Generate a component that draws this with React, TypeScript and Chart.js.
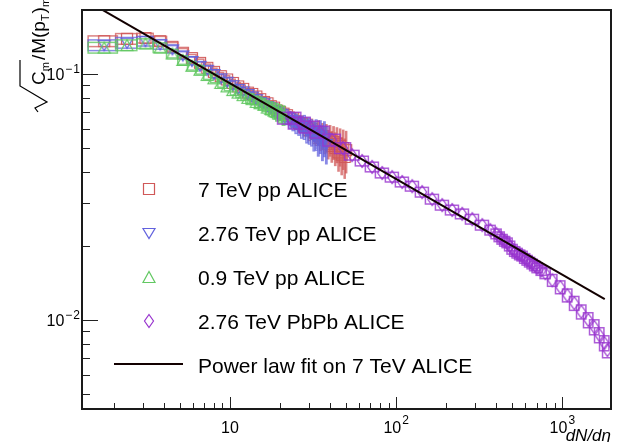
import { useEffect, useRef } from 'react';
import { Chart, registerables } from 'chart.js';

Chart.register(...registerables);

// ---------------- data ----------------
// pp multiplicity bins (dN/deta)
const ppMult = [1.75, 2.4, 3.1, 3.8, 4.5, 5.2, 5.9, 6.6, 7.3, 8.0, 8.8, 9.6, 10.4, 11.2, 12.0, 12.8, 13.6, 14.4, 15.2, 16.0, 16.8, 17.6, 18.4, 19.2, 20, 21, 22, 23, 24, 25, 26, 27, 28, 29, 30, 31, 32, 33, 34, 35, 36, 37, 38, 39, 40, 41, 42, 43, 44, 45, 46, 47, 48, 49, 50];
const ppMultHalfWidth = 0.35;

const pp7Y = [0.136, 0.139, 0.140, 0.136, 0.129, 0.122, 0.116, 0.111, 0.106, 0.102, 0.098, 0.095, 0.092, 0.089, 0.087, 0.084, 0.083, 0.081, 0.079, 0.077, 0.076, 0.074, 0.073, 0.071, 0.070, 0.069, 0.068, 0.066, 0.066, 0.064, 0.063, 0.063, 0.061, 0.061, 0.059, 0.060, 0.058, 0.057, 0.058, 0.055, 0.056, 0.054, 0.055, 0.052, 0.054, 0.051, 0.053, 0.050, 0.052, 0.048, 0.051, 0.047, 0.050, 0.046, 0.049];
const pp7RelErr = [0.05, 0.05, 0.045, 0.045, 0.04, 0.04, 0.035, 0.035, 0.035, 0.035, 0.035, 0.035, 0.035, 0.035, 0.035, 0.035, 0.035, 0.04, 0.04, 0.04, 0.04, 0.045, 0.045, 0.05, 0.05, 0.05, 0.055, 0.06, 0.06, 0.065, 0.07, 0.07, 0.08, 0.08, 0.09, 0.09, 0.1, 0.1, 0.11, 0.11, 0.12, 0.12, 0.13, 0.13, 0.14, 0.14, 0.15, 0.15, 0.16, 0.16, 0.17, 0.17, 0.18, 0.18, 0.19];

const pp276Y = [0.131, 0.134, 0.136, 0.132, 0.126, 0.119, 0.113, 0.108, 0.104, 0.100, 0.096, 0.093, 0.090, 0.087, 0.085, 0.083, 0.081, 0.079, 0.077, 0.076, 0.074, 0.073, 0.071, 0.070, 0.069, 0.067, 0.067, 0.065, 0.064, 0.063, 0.062, 0.061, 0.061, 0.059, 0.059, 0.058, 0.056, 0.057, 0.054, 0.056, 0.053, 0.055, 0.052];
const pp276RelErr = [0.05, 0.05, 0.045, 0.045, 0.035, 0.035, 0.035, 0.035, 0.035, 0.035, 0.035, 0.035, 0.035, 0.035, 0.035, 0.035, 0.04, 0.04, 0.04, 0.045, 0.045, 0.05, 0.05, 0.055, 0.06, 0.065, 0.07, 0.075, 0.08, 0.09, 0.09, 0.1, 0.11, 0.11, 0.12, 0.12, 0.13, 0.14, 0.14, 0.15, 0.16, 0.16, 0.17];

const pp09Y = [0.128, 0.131, 0.133, 0.128, 0.121, 0.114, 0.108, 0.104, 0.099, 0.096, 0.092, 0.089, 0.086, 0.084, 0.082, 0.080, 0.079, 0.077, 0.076, 0.075, 0.073, 0.072, 0.071, 0.070, 0.069, 0.068];
const pp09RelErr = [0.05, 0.05, 0.045, 0.045, 0.04, 0.04, 0.04, 0.04, 0.04, 0.04, 0.04, 0.04, 0.045, 0.045, 0.045, 0.05, 0.05, 0.055, 0.06, 0.06, 0.065, 0.07, 0.075, 0.08, 0.085, 0.09];

const pbX = [23.0, 26.4, 30.3, 34.9, 41.2, 47.9, 54.3, 62.4, 71.7, 82.4, 94.6, 108.7, 124.9, 143.4, 164.8, 189.3, 217.5, 249.8, 287.0, 329.7, 368.4, 400.4, 418, 435.1, 451, 466.4, 483, 499.7, 518, 535.8, 555, 574.1, 595, 615.5, 637, 659.6, 683, 707.0, 748, 790.0, 870.9, 972.7, 1072, 1181, 1302, 1434, 1559, 1671, 1791, 1867];
const pbY = [0.0662, 0.0632, 0.0609, 0.0581, 0.0539, 0.0500, 0.0468, 0.0443, 0.0419, 0.0396, 0.0381, 0.0364, 0.0350, 0.0331, 0.0310, 0.0293, 0.0280, 0.0270, 0.0257, 0.0243, 0.0232, 0.0224, 0.0218, 0.0213, 0.0209, 0.0206, 0.0200, 0.0194, 0.0190, 0.0187, 0.0184, 0.0182, 0.0178, 0.0175, 0.0172, 0.0169, 0.0166, 0.0163, 0.0159, 0.0155, 0.0145, 0.0136, 0.0126, 0.0117, 0.0108, 0.0100, 0.00936, 0.00869, 0.00806, 0.00755];
const pbYRelErr = [0.055, 0.055, 0.055, 0.055, 0.055, 0.05, 0.045, 0.045, 0.045, 0.045, 0.045, 0.045, 0.045, 0.045, 0.045, 0.045, 0.045, 0.045, 0.045, 0.045, 0.045, 0.045, 0.045, 0.045, 0.045, 0.045, 0.045, 0.045, 0.045, 0.045, 0.045, 0.045, 0.045, 0.045, 0.045, 0.045, 0.045, 0.045, 0.045, 0.05, 0.055, 0.06, 0.06, 0.065, 0.065, 0.07, 0.07, 0.07, 0.07, 0.07];
const pbXRelErr = [0.16, 0.15, 0.14, 0.13, 0.12, 0.11, 0.10, 0.09, 0.09, 0.09, 0.09, 0.09, 0.09, 0.09, 0.09, 0.09, 0.09, 0.09, 0.09, 0.09, 0.07, 0.07, 0.07, 0.07, 0.07, 0.07, 0.07, 0.07, 0.07, 0.07, 0.07, 0.07, 0.07, 0.07, 0.07, 0.07, 0.07, 0.07, 0.07, 0.07, 0.065, 0.065, 0.065, 0.065, 0.065, 0.065, 0.065, 0.065, 0.065, 0.065];

// power-law fit on 7 TeV pp
const fitX = [1.5, 1800];
const fitY = [0.1916, 0.01216];

const seriesLabels = ['7 TeV pp ALICE', '2.76 TeV pp ALICE', '0.9 TeV pp ALICE', '2.76 TeV PbPb ALICE', 'Power law fit on 7 TeV ALICE'];

const xDecadeTicks = [10, 100, 1000];
const xDecadeExp = ['', '2', '3'];
const yDecadeTicks = [0.1, 0.01];
const yDecadeExp = ['1', '2'];
const xRange = [1.286, 1963];
const yRange = [0.004346, 0.182];

const FONT = '"Liberation Sans", Arial, Helvetica, sans-serif';
const RED = 'rgb(208,88,88)';
const BLUE = 'rgb(98,98,222)';
const GREEN = 'rgb(98,200,98)';
const PURPLE = 'rgb(152,52,206)';

type Shape = 'square' | 'tdown' | 'tup' | 'diamond';

function makeMarker(shape: Shape, color: string) {
  const c = document.createElement('canvas');
  c.width = 16;
  c.height = 16;
  const g = c.getContext('2d')!;
  g.strokeStyle = color;
  g.lineWidth = 1.2;
  g.beginPath();
  if (shape === 'square') g.rect(2.5, 2.5, 11, 11);
  else if (shape === 'tdown') {
    g.moveTo(2, 3.5); g.lineTo(14, 3.5); g.lineTo(8, 13.5); g.closePath();
  } else if (shape === 'tup') {
    g.moveTo(2, 13.5); g.lineTo(14, 13.5); g.lineTo(8, 2.5); g.closePath();
  } else {
    g.moveTo(8, 1.5); g.lineTo(12.5, 8); g.lineTo(8, 14.5); g.lineTo(3.5, 8); g.closePath();
  }
  g.stroke();
  return c;
}

type Series = {
  label: string; xs: number[]; ys: number[]; yRel: number[]; xRel: number[] | null;
  shape: Shape; color: string; boxColor: string;
};

const series: Series[] = [
  { label: seriesLabels[0], xs: ppMult.slice(0, pp7Y.length), ys: pp7Y, yRel: pp7RelErr, xRel: null, shape: 'square', color: RED, boxColor: 'rgba(208,88,88,0.75)' },
  { label: seriesLabels[1], xs: ppMult.slice(0, pp276Y.length), ys: pp276Y, yRel: pp276RelErr, xRel: null, shape: 'tdown', color: BLUE, boxColor: 'rgba(98,98,222,0.75)' },
  { label: seriesLabels[2], xs: ppMult.slice(0, pp09Y.length), ys: pp09Y, yRel: pp09RelErr, xRel: null, shape: 'tup', color: GREEN, boxColor: 'rgba(98,200,98,0.8)' },
  { label: seriesLabels[3], xs: pbX, ys: pbY, yRel: pbYRelErr, xRel: pbXRelErr, shape: 'diamond', color: PURPLE, boxColor: 'rgba(152,52,206,0.8)' },
];

function drawYTitle(ctx: CanvasRenderingContext2D) {
  ctx.save();
  ctx.translate(45, 112);
  ctx.rotate(-Math.PI / 2);
  ctx.fillStyle = '#000';
  ctx.strokeStyle = '#000';
  ctx.lineWidth = 1.2;
  ctx.textAlign = 'left';
  ctx.textBaseline = 'alphabetic';
  const big = `19px ${FONT}`;
  const small = `11px ${FONT}`;
  ctx.font = big;
  const wC = ctx.measureText('C').width;
  ctx.font = small;
  const wm = ctx.measureText('m').width;
  const radW = 26;
  ctx.beginPath();
  ctx.moveTo(0, -7);
  ctx.lineTo(4, -10);
  ctx.lineTo(10, 2);
  ctx.lineTo(radW, -25);
  ctx.lineTo(radW + wC + wm + 3, -25);
  ctx.stroke();
  let u = radW + 1;
  ctx.font = big; ctx.fillText('C', u, 0); u += wC;
  ctx.font = small; ctx.fillText('m', u, 4); u += wm + 2;
  ctx.font = big; ctx.fillText('/', u, 0); u += ctx.measureText('/').width + 1;
  ctx.fillText('M(p', u, 0); u += ctx.measureText('M(p').width;
  ctx.font = small; ctx.fillText('T', u, 4); u += ctx.measureText('T').width + 1;
  ctx.font = big; ctx.fillText(')', u, 0); u += ctx.measureText(')').width;
  ctx.font = small; ctx.fillText('m', u, 4);
  ctx.restore();
}

const rootPlugin = {
  id: 'rootStyle',
  beforeDatasetDraw(chart: any, args: any) {
    const s = series[args.index];
    if (!s) return;
    const { ctx, chartArea: a } = chart;
    const xs = chart.scales.x;
    const ys = chart.scales.y;
    ctx.save();
    ctx.beginPath();
    ctx.rect(a.left, a.top, a.right - a.left, a.bottom - a.top);
    ctx.clip();
    ctx.strokeStyle = s.boxColor;
    ctx.lineWidth = 1.5;
    for (let i = 0; i < s.xs.length; i++) {
      const x = s.xs[i];
      const y = s.ys[i];
      const xl = s.xRel ? x * (1 - s.xRel[i]) : x - ppMultHalfWidth;
      const xh = s.xRel ? x * (1 + s.xRel[i]) : x + ppMultHalfWidth;
      const yl = y * (1 - s.yRel[i]);
      const yh = y * (1 + s.yRel[i]);
      const px0 = xs.getPixelForValue(xl);
      const px1 = xs.getPixelForValue(xh);
      const py0 = ys.getPixelForValue(yh);
      const py1 = ys.getPixelForValue(yl);
      ctx.strokeRect(px0, py0, px1 - px0, py1 - py0);
    }
    ctx.restore();
  },
  afterDraw(chart: any) {
    const { ctx, chartArea: a } = chart;
    const xs = chart.scales.x;
    const ys = chart.scales.y;
    ctx.save();
    // ticks (inside, ROOT style)
    ctx.strokeStyle = '#222';
    ctx.lineWidth = 1;
    ctx.beginPath();
    for (const d of [1, 10, 100, 1000]) {
      for (let k = 1; k <= 9; k++) {
        const v = d * k;
        if (v < xRange[0] || v > xRange[1]) continue;
        const px = Math.round(xs.getPixelForValue(v)) + 0.5;
        const len = k === 1 ? 12 : 6;
        ctx.moveTo(px, a.bottom);
        ctx.lineTo(px, a.bottom - len);
      }
    }
    for (const d of [0.001, 0.01, 0.1]) {
      for (let k = 1; k <= 9; k++) {
        const v = d * k;
        if (v < yRange[0] || v > yRange[1]) continue;
        const py = Math.round(ys.getPixelForValue(v)) + 0.5;
        const len = k === 1 ? 16 : 8;
        ctx.moveTo(a.left, py);
        ctx.lineTo(a.left + len, py);
      }
    }
    ctx.stroke();
    // frame
    ctx.strokeStyle = '#1a1a1a';
    ctx.lineWidth = 2;
    ctx.strokeRect(a.left, a.top, a.right - a.left, a.bottom - a.top);

    // x tick labels
    ctx.fillStyle = '#000';
    ctx.textBaseline = 'alphabetic';
    ctx.textAlign = 'left';
    xDecadeTicks.forEach((v, i) => {
      const px = xs.getPixelForValue(v);
      ctx.font = `16px ${FONT}`;
      const wb = ctx.measureText('10').width;
      ctx.font = `12px ${FONT}`;
      const we = xDecadeExp[i] ? ctx.measureText(xDecadeExp[i]).width + 1 : 0;
      const left = px - (wb + we) / 2;
      ctx.font = `16px ${FONT}`;
      ctx.fillText('10', left, 433);
      if (xDecadeExp[i]) {
        ctx.font = `12px ${FONT}`;
        ctx.fillText(xDecadeExp[i], left + wb + 1, 424);
      }
    });
    // y tick labels
    yDecadeTicks.forEach((v, i) => {
      const py = ys.getPixelForValue(v);
      ctx.font = `12px ${FONT}`;
      const wMinus = ctx.measureText('\u2212').width;
      const wE = ctx.measureText(yDecadeExp[i]).width;
      ctx.font = `16px ${FONT}`;
      const wb = ctx.measureText('10').width;
      const right = 80;
      const left = right - (wb + 1 + wMinus + 1 + wE);
      ctx.fillText('10', left, py + 6);
      ctx.font = `12px ${FONT}`;
      ctx.fillText('\u2212', left + wb + 1, py - 1);
      ctx.fillText(yDecadeExp[i], left + wb + 2 + wMinus, py - 1);
    });

    // axis titles
    ctx.font = `italic 17px ${FONT}`;
    ctx.textAlign = 'right';
    ctx.fillText('dN/d\u03b7', a.right, 441);
    ctx.textAlign = 'left';
    drawYTitle(ctx);

    // legend
    const baselines = [197, 241, 285, 329, 373];
    ctx.font = `21px ${FONT}`;
    ctx.fillStyle = '#000';
    series.forEach((s, i) => {
      const m = markerCache[i];
      if (m) ctx.drawImage(m, 149 - 8, baselines[i] - 8 - 8);
      ctx.fillText(s.label, 198, baselines[i]);
    });
    ctx.strokeStyle = '#120000';
    ctx.lineWidth = 2;
    ctx.beginPath();
    ctx.moveTo(114, baselines[4] - 9);
    ctx.lineTo(183, baselines[4] - 9);
    ctx.stroke();
    ctx.fillText(seriesLabels[4], 198, baselines[4]);
    ctx.restore();
  },
};

let markerCache: HTMLCanvasElement[] = [];

export default function App() {
  const ref = useRef<HTMLCanvasElement>(null);
  useEffect(() => {
    document.body.style.margin = '0';
    markerCache = series.map((s) => makeMarker(s.shape, s.color));
    const datasets: any[] = series.map((s, i) => ({
      label: s.label,
      data: s.xs.map((x, j) => ({ x, y: s.ys[j] })),
      pointStyle: markerCache[i],
      pointRadius: 6,
      pointHoverRadius: 6,
      showLine: false,
      borderColor: s.color,
      backgroundColor: 'transparent',
      order: 4 - i,
    }));
    datasets.push({
      type: 'line',
      label: seriesLabels[4],
      data: fitX.map((x, j) => ({ x, y: fitY[j] })),
      borderColor: '#120000',
      borderWidth: 2,
      pointRadius: 0,
      showLine: true,
      fill: false,
      tension: 0,
      order: 0,
    });
    const chart = new Chart(ref.current!, {
      type: 'scatter',
      data: { datasets },
      options: {
        animation: false,
        responsive: false,
        devicePixelRatio: 1,
        events: [],
        layout: { padding: { left: 82, right: 10, top: 10, bottom: 33 } },
        scales: {
          x: { type: 'logarithmic', min: xRange[0], max: xRange[1], display: false },
          y: { type: 'logarithmic', min: yRange[0], max: yRange[1], display: false },
        },
        plugins: { legend: { display: false }, tooltip: { enabled: false } },
      },
      plugins: [rootPlugin],
    } as any);
    return () => chart.destroy();
  }, []);
  return <canvas ref={ref} width={621} height={442} style={{ display: 'block', width: 621, height: 442 }} />;
}
